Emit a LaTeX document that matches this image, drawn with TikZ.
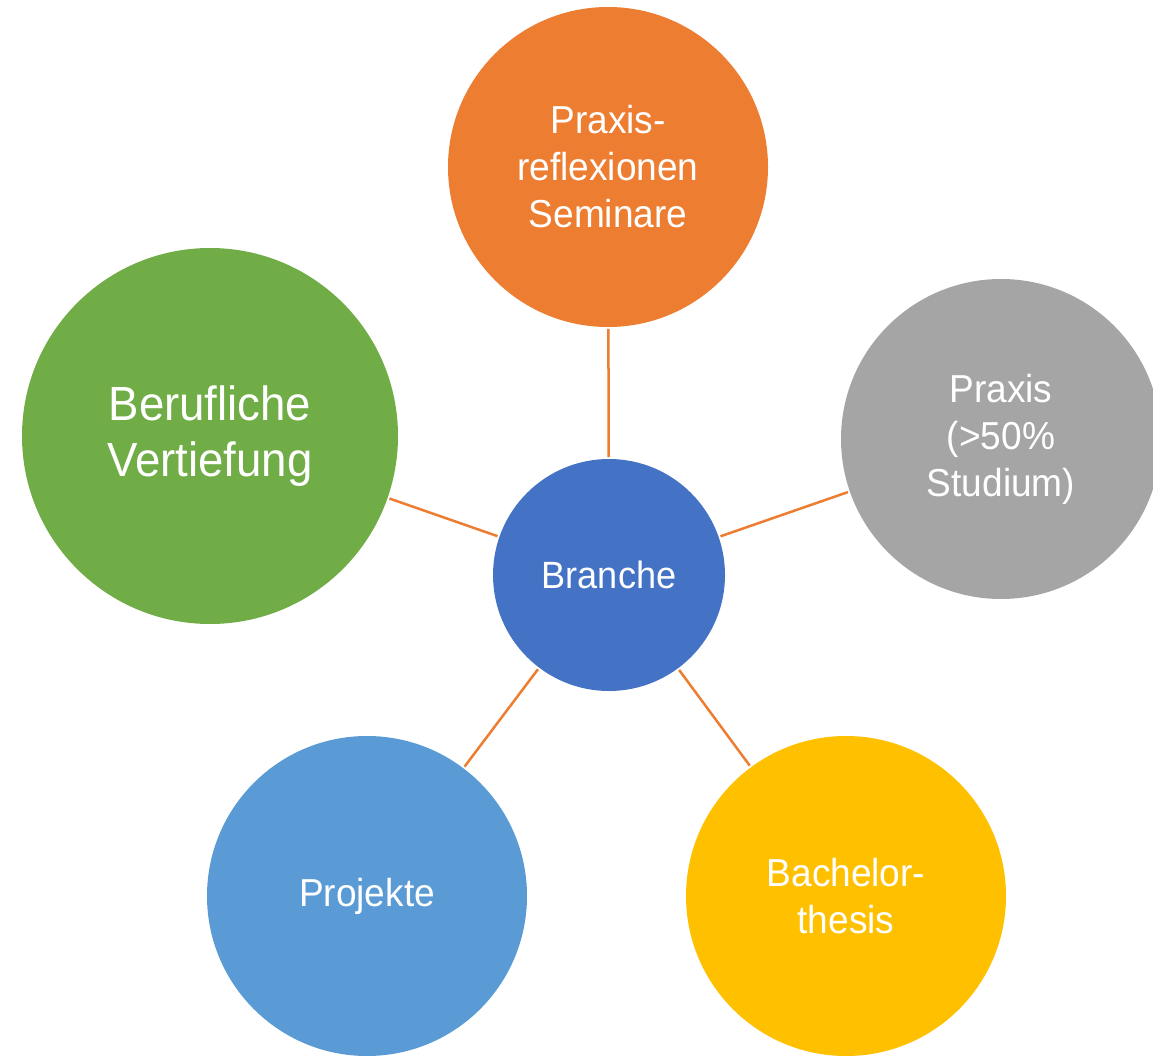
\documentclass[tikz,border=0pt]{standalone}
\usepackage{fontspec}
\setmainfont[FakeStretch=0.95]{Liberation Sans}
\definecolor{accorange}{HTML}{ED7D31}
\definecolor{accgray}{HTML}{A5A5A5}
\definecolor{accyellow}{HTML}{FFC000}
\definecolor{acclight}{HTML}{5B9BD5}
\definecolor{accgreen}{HTML}{70AD47}
\definecolor{accblue}{HTML}{4472C4}
\newcommand{\txtsize}{\fontsize{39}{47}\selectfont}

\begin{document}
\begin{tikzpicture}[x=1pt,y=-1pt,
    bubble/.style={circle,inner sep=0pt,outer sep=2pt,text=white,align=center,font=\txtsize},
    link/.style={draw=accorange,line width=2.5pt}]
    \useasboundingbox (0,0) rectangle (1153,1056);
    \node[bubble,fill=accblue,minimum size=232pt,font=\fontsize{38}{46}\selectfont] (branche) at (609,575) {Branche};
    \node[bubble,fill=accorange,minimum size=320pt] (reflexion) at (608,167) {Praxis-\\reflexionen\\Seminare};
    \node[bubble,fill=accgray,minimum size=320pt] (praxis) at (1001,439) {Praxis\\(>50\%\\Studium)};
    \node[bubble,fill=accyellow,minimum size=320pt] (thesis) at (846,896) {Bachelor-\\thesis};
    \node[bubble,fill=acclight,minimum size=320pt] (projekte) at (367,896) {Projekte};
    \node[bubble,fill=accgreen,minimum size=376pt,font=\fontsize{48}{56}\selectfont] (vertiefung) at (210,436) {Berufliche\\Vertiefung};
    \draw[link] (branche) -- (reflexion);
    \draw[link] (branche) -- (praxis);
    \draw[link] (branche) -- (thesis);
    \draw[link] (branche) -- (projekte);
    \draw[link] (branche) -- (vertiefung);
\end{tikzpicture}
\end{document}
